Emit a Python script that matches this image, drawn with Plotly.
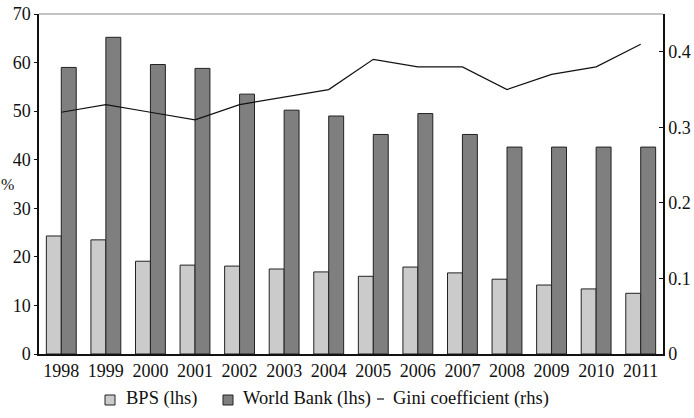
import plotly.graph_objects as go

years = ["1998", "1999", "2000", "2001", "2002", "2003", "2004", "2005",
         "2006", "2007", "2008", "2009", "2010", "2011"]
bps = [24.3, 23.5, 19.1, 18.3, 18.1, 17.5, 16.9, 16.0, 17.9, 16.7, 15.4, 14.2, 13.4, 12.5]
world_bank = [59.0, 65.2, 59.6, 58.8, 53.5, 50.2, 49.0, 45.2, 49.5, 45.2, 42.6, 42.6, 42.6, 42.6]
gini = [0.32, 0.33, 0.32, 0.31, 0.33, 0.34, 0.35, 0.39, 0.38, 0.38, 0.35, 0.37, 0.38, 0.41]
series_names = ["BPS (lhs)", "World Bank (lhs)", "Gini coefficient (rhs)"]

FONT = "Liberation Serif, Times New Roman, serif"
FS = 18
LEG_FS = 18.5
BPS_COLOR = "#cbcbcb"
WB_COLOR = "#7f7f7f"
EDGE = "#222222"

# plot area in pixels (for legend placement in paper units)
L, R, T, B = 39, 663, 14, 354
def px_x(p):
    return (p - L) / (R - L)
def px_y(p):
    return (B - p) / (B - T)

fig = go.Figure()
fig.add_trace(go.Bar(x=years, y=bps, name=series_names[0], showlegend=False,
                     marker=dict(color=BPS_COLOR, line=dict(color=EDGE, width=1))))
fig.add_trace(go.Bar(x=years, y=world_bank, name=series_names[1], showlegend=False,
                     marker=dict(color=WB_COLOR, line=dict(color=EDGE, width=1))))
fig.add_trace(go.Scatter(x=years, y=gini, name=series_names[2], yaxis="y2", showlegend=False,
                         mode="lines", line=dict(color="#111111", width=1.2)))

# custom legend (matching the reference's compact keys)
shapes = [dict(type="line", xref="paper", yref="paper", x0=0, x1=1, y0=1, y1=1,
               line=dict(color="#888888", width=1.2))]
annotations = []
leg_y0, leg_y1 = px_y(405), px_y(395)
for sx, color in [(105, BPS_COLOR), (223, WB_COLOR)]:
    shapes.append(dict(type="rect", xref="paper", yref="paper",
                       x0=px_x(sx), x1=px_x(sx + 10), y0=leg_y0, y1=leg_y1,
                       fillcolor=color, line=dict(color=EDGE, width=1)))
shapes.append(dict(type="line", xref="paper", yref="paper",
                   x0=px_x(377), x1=px_x(384), y0=px_y(399), y1=px_y(399),
                   line=dict(color="#111111", width=1.2)))
for tx, name in zip([124, 241, 391], series_names):
    annotations.append(dict(text=name, xref="paper", yref="paper", x=px_x(tx), y=px_y(398),
                            xanchor="left", yanchor="middle", showarrow=False,
                            font=dict(family=FONT, size=LEG_FS, color="#111111")))
annotations.append(dict(text="%", xref="paper", yref="paper", x=0, y=0.5,
                        xanchor="left", yanchor="middle", xshift=-40,
                        showarrow=False, font=dict(family=FONT, size=16)))

fig.update_layout(
    width=694, height=418,
    margin=dict(l=L, r=694 - R, t=T, b=418 - B, autoexpand=False),
    paper_bgcolor="white", plot_bgcolor="white",
    font=dict(family=FONT, size=FS, color="#111111"),
    barmode="group", bargap=0.33, bargroupgap=0,
    showlegend=False,
    xaxis=dict(showline=True, linecolor="#111111", linewidth=1.5, ticks="",
               showgrid=False, tickfont=dict(size=FS)),
    yaxis=dict(range=[0, 70], dtick=10, showline=True, linecolor="#111111", linewidth=1.5,
               ticks="outside", ticklen=3, tickcolor="#111111", showgrid=False,
               zeroline=False, tickfont=dict(size=FS)),
    yaxis2=dict(range=[0, 0.45], tickvals=[0, 0.1, 0.2, 0.3, 0.4],
                ticktext=["0", "0.1", "0.2", "0.3", "0.4"],
                overlaying="y", side="right", showline=True, linecolor="#111111",
                linewidth=1.5, ticks="inside", ticklen=4, tickcolor="#111111",
                showgrid=False, zeroline=False, tickfont=dict(size=FS)),
    shapes=shapes,
    annotations=annotations,
)

fig.write_html("out.html")
